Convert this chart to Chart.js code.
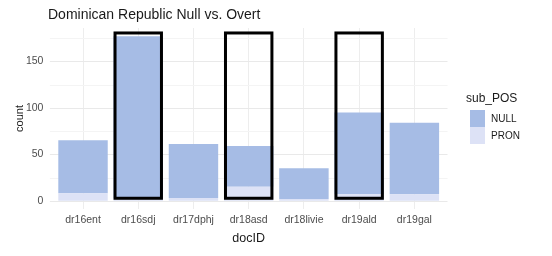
<!DOCTYPE html>
<html>
<head>
<meta charset="utf-8">
<script src="https://cdn.jsdelivr.net/npm/chart.js@4.4.1/dist/chart.umd.min.js"></script>
<style>
  html, body { margin: 0; padding: 0; background: #ffffff; }
  #wrap { width: 552px; height: 256px; }
</style>
</head>
<body>
<div id="wrap"><canvas id="myChart" width="552" height="256"></canvas></div>
<script>
// chart data
const docIDs = ["dr16ent", "dr16sdj", "dr17dphj", "dr18asd", "dr18livie", "dr19ald", "dr19gal"];
const nullCounts = [57, 174, 58, 44, 33, 88, 77];
const pronCounts = [8, 3, 3, 15, 2, 7, 7];
const boxedDocs = ["dr16sdj", "dr18asd", "dr19ald"];
const seriesNames = ["NULL", "PRON"];

const FONT = "'Liberation Sans', Arial, sans-serif";
const nullColor = "#a6bce5";
const pronColor = "#dde2f6";

// y grid lines (major + minor) stretched a bit past the bars like ggplot's panel
const panelGrid = {
  id: "panelGrid",
  beforeDatasetsDraw: (chart) => {
    const ctx = chart.ctx;
    const x = chart.scales.x;
    const y = chart.scales.y;
    const ext = (x.getPixelForValue(1) - x.getPixelForValue(0)) * 0.1;
    ctx.save();
    y.ticks.forEach((t) => {
      const py = Math.round(y.getPixelForValue(t.value)) + 0.5;
      const major = t.value % 50 === 0;
      ctx.strokeStyle = major ? "#e9e9e9" : "#f4f4f4";
      ctx.lineWidth = 1;
      ctx.beginPath();
      ctx.moveTo(chart.chartArea.left - ext, py);
      ctx.lineTo(chart.chartArea.right + ext, py);
      ctx.stroke();
    });
    ctx.restore();
  },
};

// black highlight boxes around some of the bars
const highlightBoxes = {
  id: "highlightBoxes",
  afterDatasetsDraw: (chart) => {
    const ctx = chart.ctx;
    const x = chart.scales.x;
    const y = chart.scales.y;
    const meta = chart.getDatasetMeta(1);
    ctx.save();
    ctx.strokeStyle = "#000000";
    ctx.lineWidth = 3;
    boxedDocs.forEach((doc) => {
      const i = docIDs.indexOf(doc);
      const bar = meta.data[i];
      const half = bar.width / 2 - 1.5;
      const cx = x.getPixelForValue(i);
      const top = y.getPixelForValue(180.5);
      const bottom = y.getPixelForValue(2.7);
      ctx.strokeRect(cx - half, top, half * 2, bottom - top);
    });
    ctx.restore();
  },
};

// title + legend drawn the ggplot way
const titleAndLegend = {
  id: "titleAndLegend",
  afterDraw: (chart) => {
    const ctx = chart.ctx;
    ctx.save();
    ctx.textBaseline = "middle";
    ctx.fillStyle = "#1a1a1a";
    ctx.font = "14px " + FONT;
    ctx.textAlign = "left";
    ctx.fillText("Dominican Republic Null vs. Overt", 48, 15);

    ctx.font = "12px " + FONT;
    ctx.fillText("sub_POS", 466, 99);
    const colors = [nullColor, pronColor];
    seriesNames.forEach((name, i) => {
      const top = 110 + i * 17;
      ctx.fillStyle = colors[i];
      ctx.fillRect(470, top, 15, 17);
      ctx.fillStyle = "#1a1a1a";
      ctx.font = "10px " + FONT;
      ctx.fillText(name, 491, top + 9);
    });
    ctx.restore();
  },
};

const ctx = document.getElementById("myChart");
new Chart(ctx, {
  type: "bar",
  data: {
    labels: docIDs,
    datasets: [
      {
        label: "PRON",
        data: pronCounts,
        backgroundColor: pronColor,
        borderWidth: 0,
        categoryPercentage: 0.895,
        barPercentage: 1,
      },
      {
        label: "NULL",
        data: nullCounts,
        backgroundColor: nullColor,
        borderWidth: 0,
        categoryPercentage: 0.895,
        barPercentage: 1,
      },
    ],
  },
  options: {
    responsive: false,
    animation: false,
    devicePixelRatio: 1,
    layout: {
      padding: { left: 0, top: 28, right: 110, bottom: 0 },
    },
    scales: {
      x: {
        stacked: true,
        grid: {
          display: true,
          offset: false,
          color: "#ededed",
          drawTicks: false,
        },
        border: { display: false },
        ticks: {
          color: "#4d4d4d",
          padding: 5,
          maxRotation: 0,
          font: { family: FONT, size: 10.5 },
        },
        title: {
          display: true,
          text: "docID",
          color: "#1a1a1a",
          padding: 10,
          font: { family: FONT, size: 12.5 },
        },
        afterFit: (scale) => {
          scale.height = 47;
        },
      },
      y: {
        stacked: true,
        min: -8.85,
        max: 185.85,
        grid: { display: false, drawTicks: false },
        border: { display: false },
        ticks: {
          stepSize: 25,
          includeBounds: false,
          color: "#4d4d4d",
          padding: 12,
          font: { family: FONT, size: 10.5 },
          callback: (value) => (value % 50 === 0 ? value : ""),
        },
        title: {
          display: true,
          text: "count",
          color: "#1a1a1a",
          padding: 13,
          font: { family: FONT, size: 11 },
        },
        afterFit: (scale) => {
          scale.width = 55.4;
        },
      },
    },
    plugins: {
      legend: { display: false },
      title: { display: false },
      tooltip: { enabled: false },
    },
  },
  plugins: [panelGrid, highlightBoxes, titleAndLegend],
});
</script>
</body>
</html>
